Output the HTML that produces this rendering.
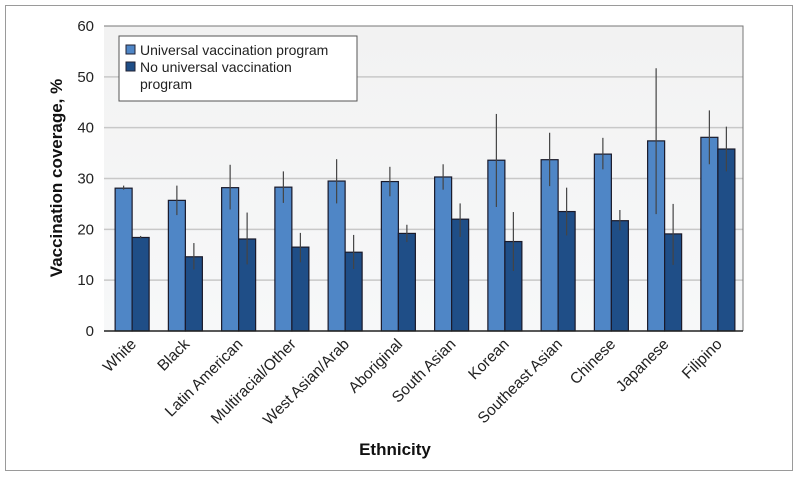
<!DOCTYPE html>
<html><head><meta charset="utf-8"><style>
body{margin:0;background:#fff;font-family:"Liberation Sans",sans-serif}
</style></head><body>
<svg id="chart" width="799" height="477" xmlns="http://www.w3.org/2000/svg" font-family="Liberation Sans, sans-serif">
<rect x="5.5" y="5.5" width="787" height="465" fill="#fff" stroke="#9a9a9a"/>
<defs><linearGradient id="bg" x1="0" y1="0" x2="0" y2="1"><stop offset="0" stop-color="#f2f2f2"/><stop offset="1" stop-color="#f7f8f9"/></linearGradient></defs>
<g id="plot"></g>
</svg>
<script>
const categories=["White","Black","Latin American","Multiracial/Other","West Asian/Arab","Aboriginal","South Asian","Korean","Southeast Asian","Chinese","Japanese","Filipino"];
const universal=[28.1,25.7,28.2,28.3,29.5,29.4,30.3,33.6,33.7,34.8,37.4,38.1];
const universalLow=[27.8,22.8,23.9,25.2,25.1,26.5,27.8,24.4,28.5,31.8,23.0,32.8];
const universalHigh=[28.6,28.6,32.7,31.4,33.8,32.3,32.8,42.7,39.0,38.0,51.7,43.4];
const noUniversal=[18.4,14.6,18.1,16.5,15.5,19.2,22.0,17.6,23.5,21.7,19.1,35.8];
const noUniversalLow=[18.2,12.1,13.1,13.5,12.2,17.5,18.5,11.8,18.8,19.8,13.0,31.4];
const noUniversalHigh=[18.7,17.3,23.3,19.3,18.9,20.9,25.1,23.4,28.2,23.8,25.0,40.2];
const yTicks=[0,10,20,30,40,50,60];
const NS="http://www.w3.org/2000/svg";
const L=104,R=743,T=26,B=331;
const y=v=>B-(v/60)*(B-T);
const band=(R-L)/categories.length;
const xc=i=>L+1.5+(i+0.5)*band;
const g=document.getElementById('plot');
function mk(tag,attrs,parent){const e=document.createElementNS(NS,tag);for(const k in attrs)e.setAttribute(k,attrs[k]);(parent||g).appendChild(e);return e;}
const bg=mk('rect',{x:L,y:T,width:R-L,height:B-T,fill:'url(#bg)'});


yTicks.forEach(t=>{
  if(t>0&&t<60){const gl=mk('line',{x1:L,x2:R,y1:y(t),y2:y(t),stroke:'#c8c8c8','stroke-width':1.5});
  
  }
  const tx=mk('text',{x:L-10,y:y(t)+5,'text-anchor':'end','font-size':15,fill:'#222'});
  tx.textContent=t;
  
  
});
const fr=mk('path',{d:`M${L} ${T}H${R}V${B}`,fill:'none',stroke:'#777','stroke-width':1});


const bw=17;
categories.forEach((c,i)=>{
  const cx=xc(i);
  [[universal,universalLow,universalHigh,'#4f86c6',cx-bw,'universal'],[noUniversal,noUniversalLow,noUniversalHigh,'#1f4e87',cx,'no-universal']].forEach(s=>{
    const v=s[0][i];
    const r=mk('rect',{x:s[4],y:y(v),width:bw,height:B-y(v),fill:s[3],stroke:'#1a1a2a','stroke-width':1.2});
    
    
    const e=mk('line',{x1:s[4]+bw/2,x2:s[4]+bw/2,y1:y(s[1][i]),y2:y(s[2][i]),stroke:'#444','stroke-width':1.2});
    
    
  });
  const lx=cx+5,ly=B+14;
  const t=mk('text',{x:lx,y:ly,'text-anchor':'end','font-size':15.5,fill:'#222',transform:`rotate(-45 ${lx} ${ly})`});
  t.textContent=c;
  
  
});
const ax=mk('line',{x1:L,x2:R,y1:B,y2:B,stroke:'#222','stroke-width':1.5});


const yt=mk('text',{x:0,y:0,'text-anchor':'middle','font-size':17,'font-weight':'bold',fill:'#111',transform:'translate(62,178) rotate(-90)'});
yt.textContent='Vaccination coverage, %';


const xt=mk('text',{x:395,y:455,'text-anchor':'middle','font-size':17,'font-weight':'bold',fill:'#111'});
xt.textContent='Ethnicity';


const lg=mk('g',{});


mk('rect',{x:119,y:36,width:238,height:65,fill:'#fff',stroke:'#555'},lg);
mk('rect',{x:126,y:45,width:9,height:9,fill:'#4f86c6',stroke:'#223'},lg);
mk('rect',{x:126,y:62,width:9,height:9,fill:'#1f4e87',stroke:'#223'},lg);
const l1=mk('text',{x:140,y:55,'font-size':14,fill:'#222'},lg);l1.textContent='Universal vaccination program';


const l2=mk('text',{x:140,y:72,'font-size':14,fill:'#222'},lg);l2.textContent='No universal vaccination';


const l3=mk('text',{x:140,y:89,'font-size':14,fill:'#222'},lg);l3.textContent='program';


</script>
</body></html>
